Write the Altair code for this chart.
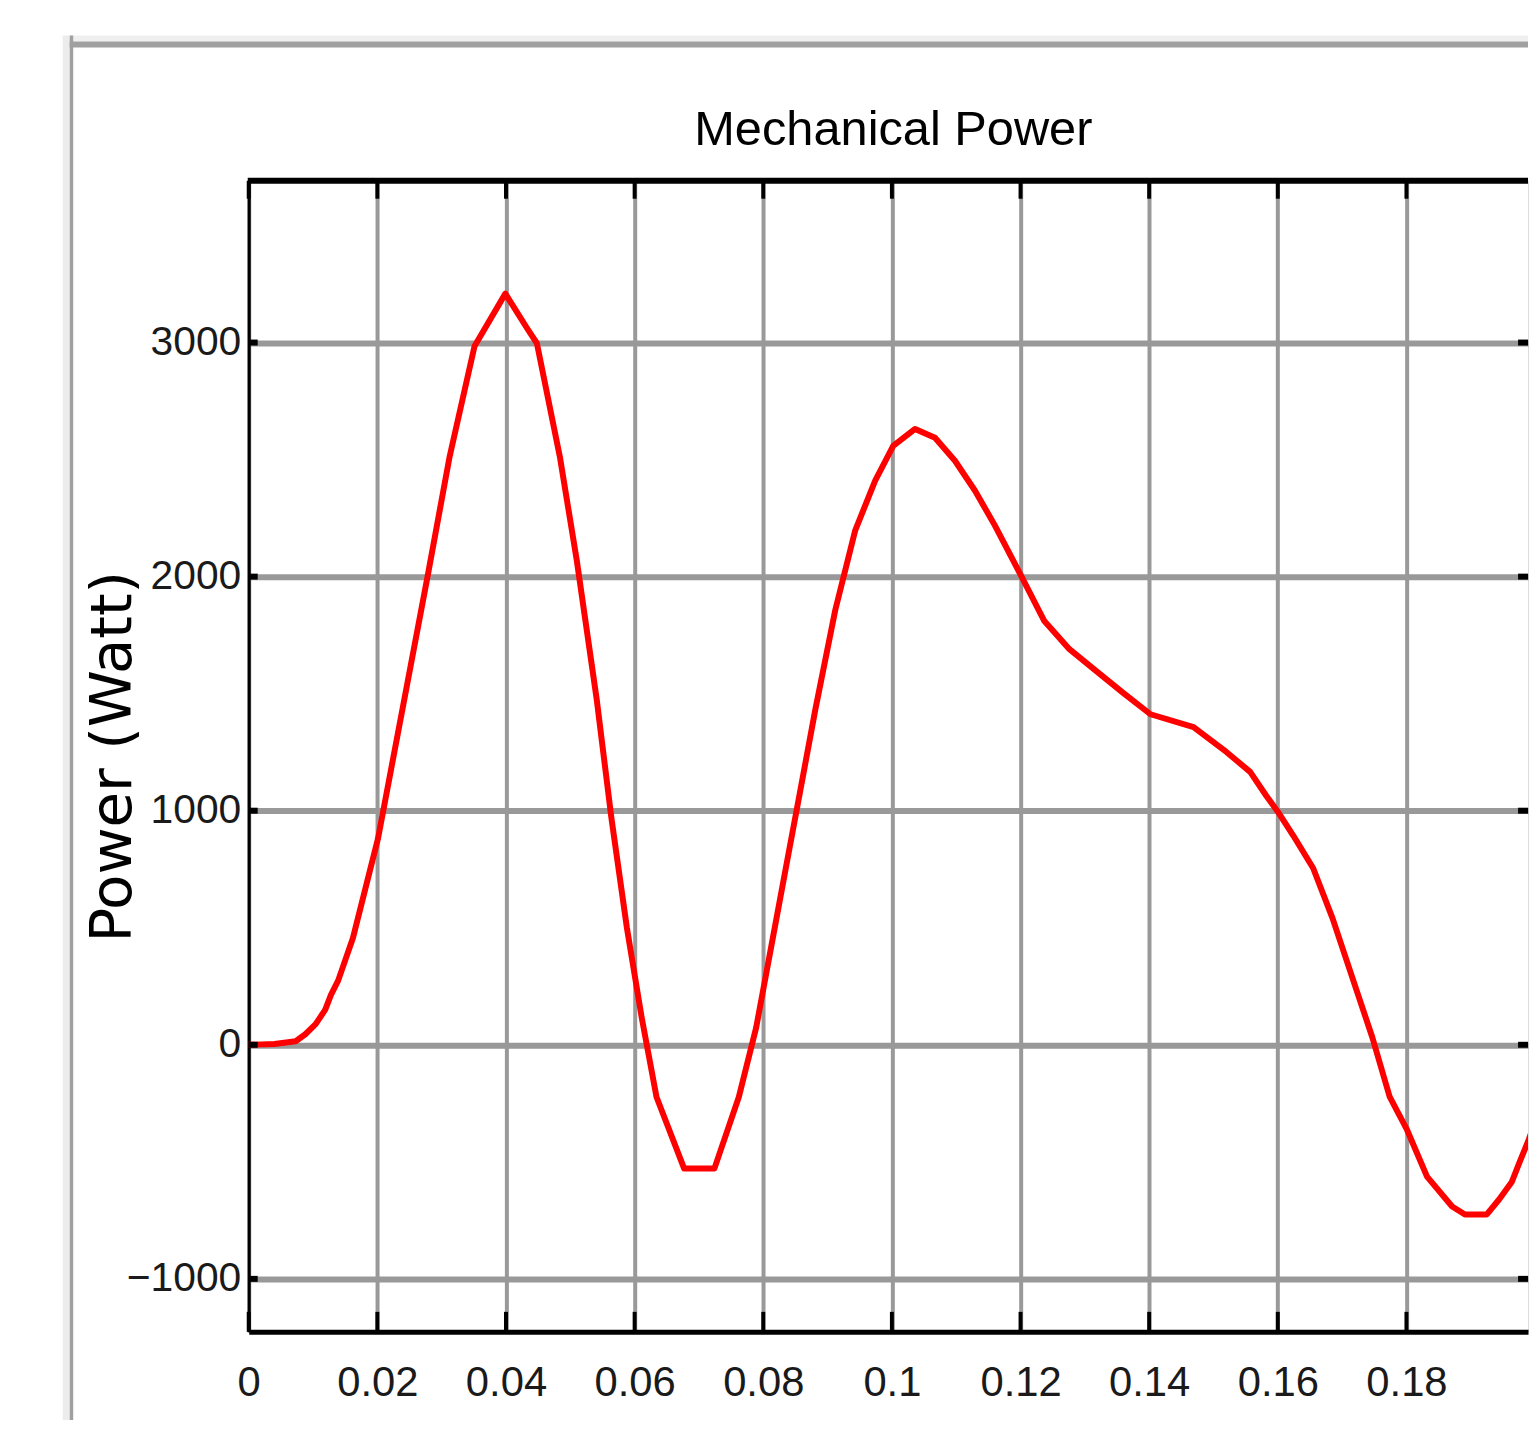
import altair as alt
import pandas as pd

# ---- data ----
time_s = [0.0, 0.004, 0.0073, 0.0088, 0.0104, 0.0119, 0.0128, 0.0139, 0.0162, 0.0201,
          0.0247, 0.0278, 0.0312, 0.0351, 0.0399, 0.0433, 0.0448, 0.0484, 0.051, 0.0541,
          0.0564, 0.0588, 0.0611, 0.0634, 0.0677, 0.0724, 0.0762, 0.0789, 0.0812, 0.0835,
          0.0858, 0.0881, 0.0912, 0.0943, 0.0974, 0.1002, 0.1036, 0.1067, 0.1098, 0.1129,
          0.116, 0.1202, 0.1237, 0.1276, 0.1314, 0.1361, 0.1402, 0.1469, 0.152, 0.1557,
          0.1582, 0.16, 0.1624, 0.1655, 0.1685, 0.1716, 0.1747, 0.1774, 0.1801, 0.1832,
          0.1871, 0.1891, 0.1925, 0.1944, 0.1964, 0.1975, 0.199, 0.2]
power_w = [0, 3, 15, 45, 88, 150, 214, 274, 456, 881,
           1550, 2000, 2508, 2984, 3209, 3060, 2997, 2508, 2070, 1476,
           966, 499, 116, -223, -529, -529, -223, 74, 414, 754,
           1093, 1433, 1858, 2198, 2410, 2559, 2631, 2593, 2495, 2368,
           2219, 1998, 1810, 1690, 1605, 1500, 1412, 1357, 1251, 1166,
           1064, 996, 894, 754, 541, 286, 31, -223, -364, -563,
           -691, -725, -725, -661, -585, -508, -406, -330]
x_ticks = [0, 0.02, 0.04, 0.06, 0.08, 0.1, 0.12, 0.14, 0.16, 0.18]
y_ticks = [-1000, 0, 1000, 2000, 3000]

title_text = ["Mechanical Power"]
y_title = "Power (Watt)"

# ---- layout ----
W = 1286
H = 1157
X_DOMAIN = [0, 0.1989]
Y_DOMAIN = [-1226, 3691]
FONT = "Liberation Sans, Arial, Helvetica, sans-serif"
GRID = "#999999"

df = pd.DataFrame({"t": time_s, "p": power_w})
xt = pd.DataFrame({"t": x_ticks})
yt = pd.DataFrame({"p": y_ticks})
one = pd.DataFrame({"d": [0]})
tdf = pd.DataFrame({"label": title_text})

xscale = alt.Scale(domain=X_DOMAIN, nice=False, zero=False)
yscale = alt.Scale(domain=Y_DOMAIN, nice=False, zero=False)

xaxis = alt.Axis(values=x_ticks, format=".2~f", title=None, grid=True,
                 gridColor=GRID, gridWidth=4, gridOpacity=1, tickSize=0,
                 domainColor="black", domainWidth=5,
                 labelFont=FONT, labelFontSize=42, labelColor="#1a1a1a",
                 labelPadding=31, labelBaseline="top", labelFlush=False,
                 labelOverlap=False)
yaxis = alt.Axis(values=y_ticks, format="d", title=y_title, grid=True,
                 gridColor=GRID, gridWidth=6, gridOpacity=1, tickSize=0,
                 domainColor="black", domainWidth=3,
                 labelFont=FONT, labelFontSize=41, labelColor="#1a1a1a",
                 labelPadding=8, labelAlign="right", labelBaseline="middle",
                 labelFlush=False, labelOverlap=False,
                 titleFont="DejaVu Sans", titleFontSize=58, titleFontWeight="normal",
                 titleColor="black", titleAngle=270, titleX=-119, titleY=H / 2,
                 titleAlign="center", titleBaseline="alphabetic")

X = alt.X("t:Q", scale=xscale, axis=xaxis)
Y = alt.Y("p:Q", scale=yscale, axis=yaxis)

line = alt.Chart(df).mark_line(color="#ff0000", strokeWidth=6, clip=True,
                               strokeJoin="round", strokeCap="round").encode(x=X, y=Y)

top_ticks = alt.Chart(xt).mark_rule(color="black", strokeWidth=4).encode(
    x=X, y=alt.value(0), y2=alt.value(18))
bottom_ticks = alt.Chart(xt).mark_rule(color="black", strokeWidth=4).encode(
    x=X, y=alt.value(H), y2=alt.value(H - 20))
left_ticks = alt.Chart(yt).mark_rule(color="black", strokeWidth=6).encode(
    y=Y, x=alt.value(0), x2=alt.value(9))
right_ticks = alt.Chart(yt).mark_rule(color="black", strokeWidth=6).encode(
    y=Y, x=alt.value(W - 10), x2=alt.value(W))
top_border = alt.Chart(one).mark_rule(color="black", strokeWidth=6).encode(
    x=alt.value(-1), x2=alt.value(W), y=alt.value(0))

# chart title (drawn as a text mark above the plot)
title = alt.Chart(tdf).mark_text(font=FONT, fontSize=49, color="black",
                                 align="center", baseline="alphabetic").encode(
    text="label:N", x=alt.value(648), y=alt.value(-36))

# figure window frame (decoration)
frame_v_light = alt.Chart(one).mark_rule(color="#ececec", strokeWidth=7).encode(
    x=alt.value(-183.5), y=alt.value(-146), y2=alt.value(H + 90))
frame_v = alt.Chart(one).mark_rule(color="#a0a0a0", strokeWidth=3.5).encode(
    x=alt.value(-178.2), y=alt.value(-146), y2=alt.value(H + 90))
frame_h_light = alt.Chart(one).mark_rule(color="#efefef", strokeWidth=6).encode(
    y=alt.value(-143), x=alt.value(-180), x2=alt.value(W))
frame_h = alt.Chart(one).mark_rule(color="#a0a0a0", strokeWidth=6).encode(
    y=alt.value(-137), x=alt.value(-180), x2=alt.value(W))

chart = alt.layer(
    frame_v_light, frame_h_light, frame_v, frame_h, title,
    line, top_ticks, bottom_ticks, left_ticks, right_ticks, top_border,
).properties(
    width=W, height=H,
    autosize=alt.AutoSizeParams(type="none"),
    padding={"left": 242, "top": 170, "right": 2, "bottom": 85},
).configure_view(stroke=None).configure(background="white")

chart.save("out.html", embed_options={"renderer": "svg", "actions": False})
